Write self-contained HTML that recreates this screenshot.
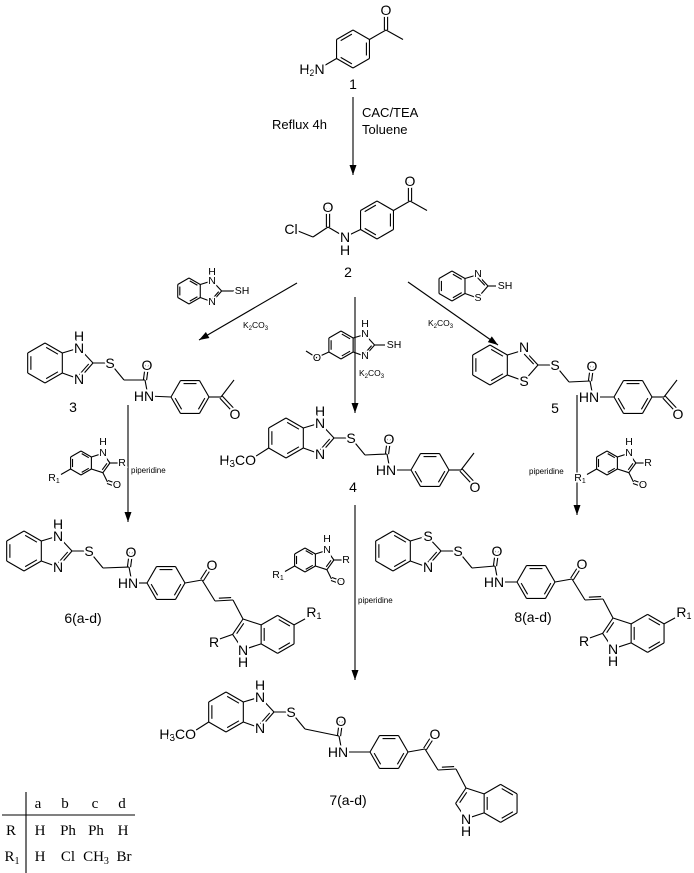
<!DOCTYPE html>
<html><head><meta charset="utf-8">
<style>
html,body{margin:0;padding:0;background:#fff;}
svg{display:block;}
.t{font-family:"Liberation Sans",sans-serif;font-size:14px;text-anchor:middle;dominant-baseline:central;stroke:#fff;stroke-width:4px;paint-order:stroke fill;fill:#000;}
.s{font-size:10.5px;stroke-width:3px;}
.k{font-family:"Liberation Sans",sans-serif;font-size:8.5px;fill:#000;}
.p{font-family:"Liberation Sans",sans-serif;font-size:8px;fill:#000;}
.l{font-family:"Liberation Sans",sans-serif;font-size:14px;fill:#000;text-anchor:middle;dominant-baseline:central;}
.m{font-family:"Liberation Sans",sans-serif;font-size:13px;fill:#000;}
.tb{font-family:"Liberation Serif",serif;font-size:15px;fill:#000;text-anchor:middle;dominant-baseline:central;}
</style></head><body>
<svg id="svg" width="694" height="873" viewBox="0 0 694 873" xmlns="http://www.w3.org/2000/svg">
<g id="g" stroke="#000" stroke-width="1.1" fill="none"></g>
<g id="ah" fill="#000"></g>
<g>
<!-- compound 1 -->
<text class="t" x="386" y="10">O</text>
<text class="t" x="312" y="69">H<tspan font-size="9" dy="4">2</tspan><tspan dy="-4">N</tspan></text>
<text class="l" x="353" y="84">1</text>
<text class="m" x="272" y="129">Reflux 4h</text>
<text class="m" x="362" y="117">CAC/TEA</text>
<text class="m" x="362" y="134">Toluene</text>
<!-- compound 2 -->
<text class="t" x="410" y="181">O</text>
<text class="t" x="328" y="207">O</text>
<text class="t" x="291" y="229">Cl</text>
<text class="t" x="345" y="237">N</text>
<text class="t" x="345" y="250">H</text>
<text class="l" x="348" y="272">2</text>
<!-- reagents row -->
<text class="t s" x="212" y="272">H</text>
<text class="t s" x="212" y="281">N</text>
<text class="t s" x="212" y="302">N</text>
<text class="t s" x="242" y="291">SH</text>
<text class="k" x="243" y="328">K<tspan font-size="6" dy="2">2</tspan><tspan dy="-2">CO</tspan><tspan font-size="6" dy="2">3</tspan></text>
<text class="t s" x="478" y="274">N</text>
<text class="t s" x="478" y="298">S</text>
<text class="t s" x="505" y="286">SH</text>
<text class="k" x="428" y="326">K<tspan font-size="6" dy="2">2</tspan><tspan dy="-2">CO</tspan><tspan font-size="6" dy="2">3</tspan></text>
<text class="t s" x="365" y="324">H</text>
<text class="t s" x="365" y="334">N</text>
<text class="t s" x="365" y="356">N</text>
<text class="t s" x="394" y="345">SH</text>
<text class="t s" x="317" y="358">O</text>
<text class="k" x="359" y="376">K<tspan font-size="6" dy="2">2</tspan><tspan dy="-2">CO</tspan><tspan font-size="6" dy="2">3</tspan></text>
<!-- compound 3 -->
<text class="t" x="79" y="336">H</text>
<text class="t" x="79" y="348">N</text>
<text class="t" x="79" y="379">N</text>
<text class="t" x="110" y="363">S</text>
<text class="t" x="147" y="365">O</text>
<text class="t" x="144" y="396">HN</text>
<text class="t" x="235" y="414">O</text>
<text class="l" x="73" y="407">3</text>
<!-- compound 5 -->
<text class="t" x="524" y="347">N</text>
<text class="t" x="524" y="381">S</text>
<text class="t" x="555" y="365">S</text>
<text class="t" x="592" y="366">O</text>
<text class="t" x="589" y="397">HN</text>
<text class="t" x="678" y="414">O</text>
<text class="l" x="555" y="408">5</text>
<!-- compound 4 -->
<text class="t" x="320" y="411">H</text>
<text class="t" x="320" y="423">N</text>
<text class="t" x="320" y="454">N</text>
<text class="t" x="351" y="438">S</text>
<text class="t" x="389" y="439">O</text>
<text class="t" x="386" y="470">HN</text>
<text class="t" x="475" y="487">O</text>
<text class="t" x="256" y="460" style="text-anchor:end">H<tspan font-size="10" dy="4">3</tspan><tspan dy="-4">CO</tspan></text>
<text class="l" x="353" y="487">4</text>
<!-- indole reagents -->
<text class="t s" x="103" y="442">H</text>
<text class="t s" x="103" y="453">N</text>
<text class="t s" x="122" y="463">R</text>
<text class="t s" x="117" y="485">O</text>
<text class="t s" x="54" y="478">R<tspan font-size="7" dy="3">1</tspan></text>
<text class="p" x="131" y="473">piperidine</text>
<text class="t s" x="327" y="539">H</text>
<text class="t s" x="327" y="550">N</text>
<text class="t s" x="346" y="560">R</text>
<text class="t s" x="341" y="582">O</text>
<text class="t s" x="278" y="575">R<tspan font-size="7" dy="3">1</tspan></text>
<text class="p" x="358" y="603">piperidine</text>
<text class="t s" x="629" y="442">H</text>
<text class="t s" x="629" y="453">N</text>
<text class="t s" x="648" y="463">R</text>
<text class="t s" x="643" y="485">O</text>
<text class="t s" x="580" y="478">R<tspan font-size="7" dy="3">1</tspan></text>
<text class="p" x="529" y="474">piperidine</text>
<!-- compound 6 -->
<text class="t" x="58" y="524">H</text>
<text class="t" x="58" y="536">N</text>
<text class="t" x="58" y="567">N</text>
<text class="t" x="89" y="551">S</text>
<text class="t" x="131" y="552">O</text>
<text class="t" x="128" y="583">HN</text>
<text class="t" x="212" y="565">O</text>
<text class="t" x="243" y="650">N</text>
<text class="t" x="243" y="662">H</text>
<text class="t" x="214" y="642">R</text>
<text class="t" x="314" y="612">R<tspan font-size="9" dy="4">1</tspan></text>
<text class="l" x="83" y="618">6(a-d)</text>
<!-- compound 8 -->
<text class="t" x="428" y="536">S</text>
<text class="t" x="428" y="567">N</text>
<text class="t" x="458" y="551">S</text>
<text class="t" x="497" y="551">O</text>
<text class="t" x="494" y="582">HN</text>
<text class="t" x="582" y="564">O</text>
<text class="t" x="613" y="649">N</text>
<text class="t" x="613" y="661">H</text>
<text class="t" x="584" y="641">R</text>
<text class="t" x="684" y="612">R<tspan font-size="9" dy="4">1</tspan></text>
<text class="l" x="533" y="617">8(a-d)</text>
<!-- compound 7 -->
<text class="t" x="260" y="685">H</text>
<text class="t" x="260" y="697">N</text>
<text class="t" x="260" y="728">N</text>
<text class="t" x="291" y="712">S</text>
<text class="t" x="341" y="721">O</text>
<text class="t" x="338" y="752">HN</text>
<text class="t" x="435" y="734">O</text>
<text class="t" x="196" y="734" style="text-anchor:end">H<tspan font-size="10" dy="4">3</tspan><tspan dy="-4">CO</tspan></text>
<text class="t" x="466" y="819">N</text>
<text class="t" x="466" y="831">H</text>
<text class="l" x="348" y="800">7(a-d)</text>
<!-- table -->
<text class="tb" x="38" y="804">a</text>
<text class="tb" x="65" y="804">b</text>
<text class="tb" x="95" y="804">c</text>
<text class="tb" x="122" y="804">d</text>
<text class="tb" x="11" y="831">R</text>
<text class="tb" x="40" y="831">H</text>
<text class="tb" x="68" y="831">Ph</text>
<text class="tb" x="96" y="831">Ph</text>
<text class="tb" x="123" y="831">H</text>
<text class="tb" x="12" y="857">R<tspan font-size="10" dy="4">1</tspan></text>
<text class="tb" x="40" y="857">H</text>
<text class="tb" x="68" y="857">Cl</text>
<text class="tb" x="96" y="857">CH<tspan font-size="10" dy="4">3</tspan></text>
<text class="tb" x="124" y="857">Br</text>
</g>
</svg>
<script>
var G=document.getElementById('g'),AH=document.getElementById('ah'),NS='http://www.w3.org/2000/svg';
function L(x1,y1,x2,y2){var e=document.createElementNS(NS,'line');e.setAttribute('x1',x1);e.setAttribute('y1',y1);e.setAttribute('x2',x2);e.setAttribute('y2',y2);G.appendChild(e);}
function Lp(a,b){L(a[0],a[1],b[0],b[1]);}
function DB(a,b){var dx=b[0]-a[0],dy=b[1]-a[1],l=Math.hypot(dx,dy),nx=-dy/l*1.6,ny=dx/l*1.6;L(a[0]+nx,a[1]+ny,b[0]+nx,b[1]+ny);L(a[0]-nx,a[1]-ny,b[0]-nx,b[1]-ny);}
function Din(a,b,c,o){o=o||3;var mx=(a[0]+b[0])/2,my=(a[1]+b[1])/2,dx=c[0]-mx,dy=c[1]-my,l=Math.hypot(dx,dy);dx=dx/l*o;dy=dy/l*o;
var sh=0.16;var ax=a[0]+(b[0]-a[0])*sh+dx,ay=a[1]+(b[1]-a[1])*sh+dy,bx=b[0]+(a[0]-b[0])*sh+dx,by=b[1]+(a[1]-b[1])*sh+dy;L(ax,ay,bx,by);}
function ring(cx,cy,r,t,dbl){var p=[];for(var i=0;i<6;i++){var a=(t=='pt'?-90:0)+60*i;a=a*Math.PI/180;p.push([cx+r*Math.cos(a),cy+r*Math.sin(a)]);}
for(var i=0;i<6;i++)Lp(p[i],p[(i+1)%6]);(dbl||[]).forEach(function(i){Din(p[i],p[(i+1)%6],[cx,cy],r*0.16);});return p;}
function arrow(x1,y1,x2,y2){L(x1,y1,x2,y2);var dx=x2-x1,dy=y2-y1,l=Math.hypot(dx,dy);dx/=l;dy/=l;var bx=x2-dx*10,by=y2-dy*10;
var e=document.createElementNS(NS,'polygon');e.setAttribute('points',x2+','+y2+' '+(bx-dy*3.5)+','+(by+dx*3.5)+' '+(bx+dy*3.5)+','+(by-dx*3.5));AH.appendChild(e);}
function het(ox,oy,s,r,kind){ring(ox,oy,r,'pt',[0,2,4]);var v1=[ox+r*0.866,oy-r/2],v2=[ox+r*0.866,oy+r/2];
var A=[ox+34*s,oy-15*s],C=[ox+48*s,oy],B=[ox+34*s,oy+16*s],fc=[ox+31*s,oy];Lp(v1,A);Lp(A,C);Lp(C,B);Lp(B,v2);
if(kind=='thN')Din(A,C,fc,2.6*s);else Din(C,B,fc,2.6*s);return C;}
function indole(c3,R,R1){var C3a=[c3[0]+18.1,c3[1]+5.9],C7a=[c3[0]+18.1,c3[1]+24.9],N1=[c3[0],c3[1]+30.8],C2=[c3[0]-10.4,c3[1]+15.4],fc=[c3[0]+5,c3[1]+15.4];
Lp(c3,C3a);Lp(C7a,N1);Lp(N1,C2);Lp(C2,c3);Din(C2,c3,fc,3);var bc=[C3a[0]+16.5,C3a[1]+9.5];var p=ring(bc[0],bc[1],19,'pt',[0,2,4]);
if(R)Lp(C2,[C2[0]-14,C2[1]+5]);if(R1)Lp(p[1],[p[1][0]+11,p[1][1]-6]);}
function core(ox,oy,kind,nx,ny,px,py,tail,ome,sub){var C2=het(ox,oy,1,20,kind);var s=[ox+65,oy];Lp(C2,s);var ch=[ox+79,oy+17];Lp(s,ch);
var c=[nx-3,ny-16];Lp(ch,c);DB(c,[nx-1,ny-31]);Lp(c,[nx,ny]);Lp([nx,ny],[px-19,py]);ring(px,py,19,'pl',[0,2,4]);
if(ome)L(ox-17.3,oy+10,ox-33,oy+20);var R=[px+19,py];
if(tail=='ac'){var ca=[px+31,py];Lp(R,ca);Lp(ca,[px+44,py-17]);DB(ca,[px+45,py+15]);}
else{var ck=[R[0]+17,R[1]-3];Lp(R,ck);DB(ck,[R[0]+26,R[1]-17]);var ca2=[R[0]+30,R[1]+18],cb=[R[0]+48,R[1]+17],c3=[R[0]+58,R[1]+36];
Lp(ck,ca2);Lp(ca2,cb);Din(ca2,cb,[cb[0]-5,cb[1]-10],2.8);Lp(cb,c3);indole(c3,sub,sub);}}
function rind(bx,by){var p=ring(bx,by,12,'pt',[0,2,4]);var UR=p[1],LR=p[2],N1=[bx+21.9,by-9.7],C2=[bx+28.9,by],C3=[bx+21.9,by+9.7];
Lp(UR,N1);Lp(N1,C2);Lp(C2,C3);Lp(C3,LR);Din(C2,C3,[bx+18.7,by],2.2);Lp(C2,[bx+37,by]);var ch=[bx+26.5,by+19];Lp(C3,ch);DB(ch,[bx+35,by+22]);Lp(p[4],[bx-20,by+11.5]);}
/* compound 1 */
var p=ring(353,49,19,'pt',[1,3,5]);Lp(p[1],[386,30]);L(386,30,403,39.5);DB([386,30],[386,11]);Lp(p[4],[322,67]);
/* compound 2 */
p=ring(377,220,19,'pt',[1,3,5]);Lp(p[1],[410,201]);L(410,201,427,210.5);DB([410,201],[410,182]);Lp(p[4],[345,237]);
L(345,237,328,227);DB([328,227],[328,208]);L(328,227,313,237);L(313,237,298,231);
/* reagents */
var c=het(189,291,0.68,13,'im');Lp(c,[234,291]);
c=het(452,286,0.75,15,'thN');Lp(c,[496,286]);
c=het(341,345,0.7,14,'im');Lp(c,[385,345]);L(328.9,352,318,357);L(317,358,306,351);
rind(81,463);rind(305,560);rind(607,463);
/* products */
core(45,363,'im',148,396,190,397,'ac',false);
core(286,438,'im',390,470,430,470,'ac',true);
core(490,365,'thN',593,397,633,397,'ac',false);
core(24,551,'im',132,583,166,583,'ch',false,true);
core(393,551,'thS',498,582,536,582,'ch',false,true);
core(226,712,'im',342,752,389,752,'ch',true,false);
/* arrows */
arrow(353,97,353,175);arrow(297,283,199,340);arrow(355,297,355,413);arrow(408,282,498,345);
arrow(128,405,128,522);arrow(355,505,355,680);arrow(577,395,577,515);
/* table */
L(26,792,26,873);L(2,815,135,815);
</script>
</body></html>
